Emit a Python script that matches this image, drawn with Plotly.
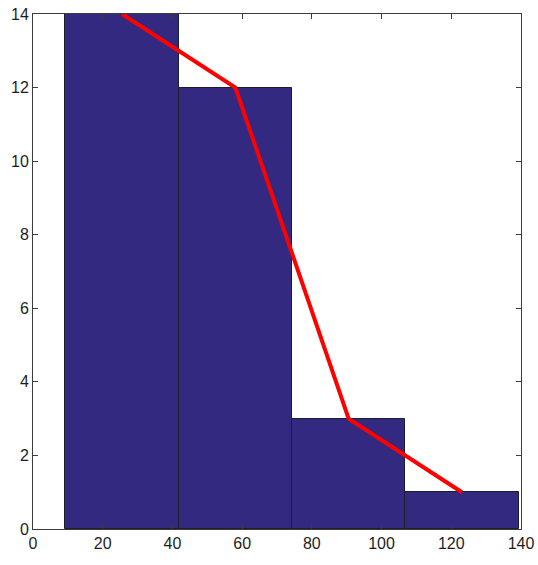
import plotly.graph_objects as go

bin_edges = [9.3, 41.8, 74.3, 106.8, 139.3]
counts = [14, 12, 3, 1]
bin_centers = [25.55, 58.05, 90.55, 123.05]
x_ticks = [0, 20, 40, 60, 80, 100, 120, 140]
y_ticks = [0, 2, 4, 6, 8, 10, 12, 14]

widths = [bin_edges[i + 1] - bin_edges[i] for i in range(len(counts))]

fig = go.Figure()
fig.add_trace(go.Bar(
    x=bin_centers, y=counts, width=widths,
    marker=dict(color="rgb(51,41,128)", line=dict(color="rgb(30,30,40)", width=1)),
    showlegend=False, hoverinfo="skip",
))
fig.add_trace(go.Scatter(
    x=bin_centers, y=counts, mode="lines",
    line=dict(color="rgb(255,0,0)", width=4),
    showlegend=False, hoverinfo="skip",
))

axis_common = dict(
    showgrid=False, zeroline=False, showline=True, mirror="ticks",
    linecolor="rgb(60,60,60)", linewidth=1,
    ticks="inside", ticklen=5, tickcolor="rgb(60,60,60)",
    automargin=False,
    tickfont=dict(family="Liberation Sans Narrow, Liberation Sans, sans-serif", size=16, color="rgb(30,30,30)"),
)
fig.update_xaxes(range=[0, 140], tickvals=x_ticks, **axis_common)
fig.update_yaxes(range=[0, 14], tickvals=y_ticks, **axis_common)

fig.update_layout(
    width=538, height=565,
    margin=dict(l=33, r=17, t=14, b=36),
    plot_bgcolor="white", paper_bgcolor="white",
    bargap=0,
)
fig.write_html(
    "out.html",
    config={"displayModeBar": False},
    post_script="document.body.style.margin='0';document.body.style.overflow='hidden';",
)
